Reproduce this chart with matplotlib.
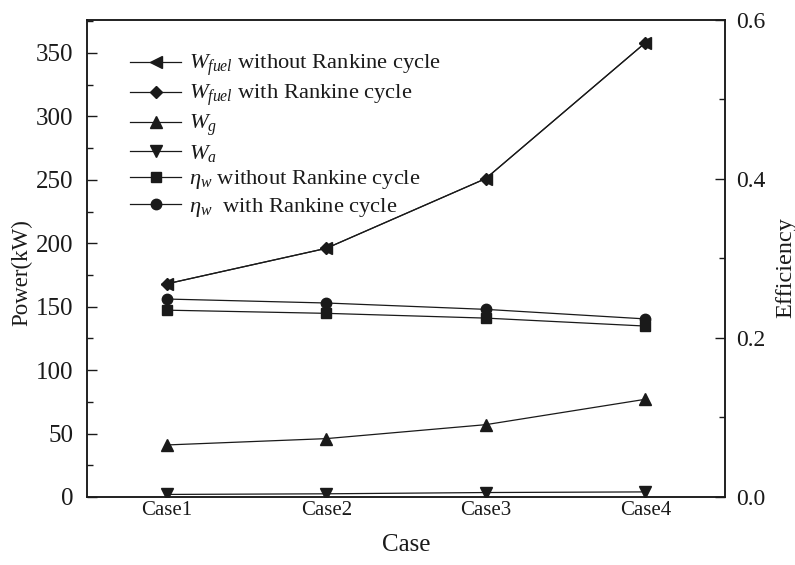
import matplotlib
matplotlib.use("Agg")
import matplotlib.pyplot as plt
from matplotlib.ticker import MultipleLocator, FormatStrFormatter

plt.rcParams["font.family"] = ["Liberation Serif", "DejaVu Serif"]
plt.rcParams["mathtext.fontset"] = "custom"
plt.rcParams["mathtext.rm"] = "Liberation Serif"
plt.rcParams["mathtext.it"] = "Liberation Serif:italic"
plt.rcParams["mathtext.bf"] = "Liberation Serif:bold"

cases = ["Case1", "Case2", "Case3", "Case4"]

# power terms (kW)
w_fuel_without = [168, 196, 251, 358]
w_fuel_with = [168, 196, 251, 358]
w_g = [41, 46, 57, 77]
w_a = [2, 2.5, 3.5, 4]

# efficiencies
eta_without = [0.235, 0.231, 0.225, 0.215]
eta_with = [0.249, 0.244, 0.236, 0.224]

labels = [
    r"$W_{fuel}$ without Rankine cycle",
    r"$W_{fuel}$ with Rankine cycle",
    r"$W_{g}$",
    r"$W_{a}$",
    r"$\eta_{w}$ without Rankine cycle",
    r"$\eta_{w}$  with Rankine cycle",
]

ink = "#1a1a1a"
x = list(range(1, len(cases) + 1))

fig = plt.figure(figsize=(7.95, 5.65), dpi=100)
ax = fig.add_axes([0.1094, 0.1204, 0.8026, 0.8442])
ax2 = ax.twinx()

lw = 0.9
kw = dict(color=ink, lw=lw, markeredgecolor=ink, markerfacecolor=ink)
h1, = ax.plot(x, w_fuel_without, marker="<", ms=8, **kw)
h2, = ax.plot(x, w_fuel_with, marker="D", ms=6.5, **kw)
h3, = ax.plot(x, w_g, marker="^", ms=8, **kw)
h4, = ax.plot(x, w_a, marker="v", ms=8, **kw)
h5, = ax2.plot(x, eta_without, marker="s", ms=7, **kw)
h6, = ax2.plot(x, eta_with, marker="o", ms=7.5, **kw)

ax.set_xlim(0.5, 4.5)
ax.set_ylim(0, 376)
ax2.set_ylim(0, 0.6)

ax.set_xticks(x)
ax.set_xticklabels(cases, fontsize=15, color=ink)
ax.tick_params(axis="x", length=0, pad=3)

ax.yaxis.set_major_locator(MultipleLocator(50))
ax.yaxis.set_minor_locator(MultipleLocator(25))
ax.tick_params(axis="y", which="major", direction="in", length=7, width=1,
               labelsize=18, colors=ink, pad=10)
ax.tick_params(axis="y", which="minor", direction="in", length=4, width=1, colors=ink)

ax2.yaxis.set_major_locator(MultipleLocator(0.2))
ax2.yaxis.set_minor_locator(MultipleLocator(0.1))
ax2.yaxis.set_major_formatter(FormatStrFormatter("%.1f"))
ax2.tick_params(axis="y", which="major", direction="in", length=7, width=1,
                labelsize=17, colors=ink, pad=8)
ax2.tick_params(axis="y", which="minor", direction="in", length=4, width=1, colors=ink)

for a in (ax, ax2):
    for s in a.spines.values():
        s.set_linewidth(1.1)
        s.set_color(ink)

ax.set_xlabel("Case", fontsize=18, color=ink)
ax.xaxis.set_label_coords(0.5, -0.1, transform=ax.transAxes)
ax.xaxis.label.set_va("center")
ax.set_ylabel("Power(kW)", fontsize=16.5, color=ink)
ax.yaxis.set_label_coords(-0.103, 0.47)
ax.yaxis.label.set_va("center")
ax2.set_ylabel("Efficiency", fontsize=17.5, color=ink)
ax2.yaxis.set_label_coords(1.095, 0.482)
ax2.yaxis.label.set_va("center")

leg = ax.legend([h1, h2, h3, h4, h5, h6], labels, loc="upper left",
                bbox_to_anchor=(0.067, 0.931), frameon=False, fontsize=16.2,
                handlelength=2.3, handletextpad=0.35, labelspacing=0.2,
                borderpad=0, borderaxespad=0)
for t in leg.get_texts():
    t.set_color(ink)

fig.savefig("out.png", dpi=100)
